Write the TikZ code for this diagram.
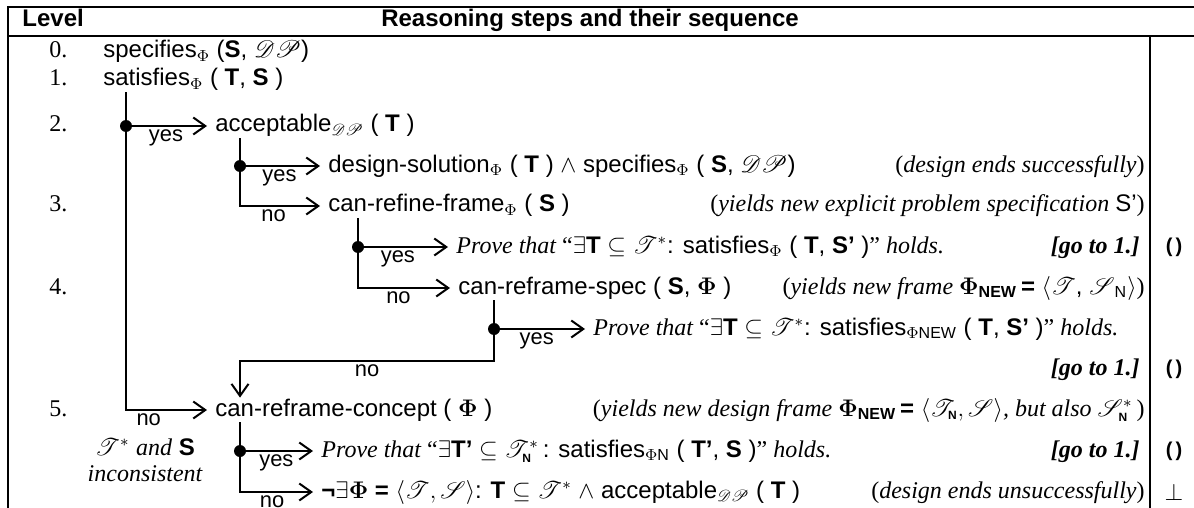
\documentclass[tikz,border=0pt,12pt]{standalone}
\usepackage[no-math]{fontspec}
\setmainfont{Liberation Sans}
\newfontfamily\tms[Ligatures=TeX]{Liberation Serif}
\usepackage{mathrsfs}
\usetikzlibrary{arrows.meta}
\newcommand{\DP}{\ensuremath{\mathscr{DP}}}
\newcommand{\subN}{\hbox{\fontsize{6}{6}\selectfont\bfseries N}}
\newcommand{\loopsym}{{\bfseries\fontsize{10}{10}\selectfont(\kern1.5pt)}}
\begin{document}
\begin{tikzpicture}[x=0.5pt, y=-0.5pt, >={Straight Barb[length=6pt,width=8.5pt]},
  txt/.style = {anchor=west, inner xsep=4pt, inner ysep=0pt, text height=9pt, text depth=3pt},
  note/.style = {anchor=east, inner sep=0pt, text height=9pt, text depth=3pt},
  num/.style = {anchor=west, inner sep=0pt, text height=9pt, text depth=3pt, font=\tms},
  lab/.style = {below, inner sep=1.5pt, font=\small},
  dot/.style = {circle, fill, inner sep=0pt, minimum size=6pt},
  flow/.style = {line width=1pt},
  rule/.style = {line width=1.3pt}]
\useasboundingbox (0,0) rectangle (1194,508);

\draw[rule] (8,508) -- (8,7) -- (1194,7);
\draw[rule] (8,36) -- (1194,36);
\draw[rule] (1150,36) -- (1150,508);

\node[txt, inner xsep=0pt, font=\bfseries] (lvlhead) at (22,21) {Level};
\node[inner sep=0pt, text height=9pt, text depth=3pt, font=\bfseries] (stephead) at (590,21) {Reasoning steps and their sequence};

\node[num] (n0) at (49,52) {0.};
\node[num] (n1) at (49,80) {1.};
\node[num] (n2) at (49,126) {2.};
\node[num] (n3) at (49,206) {3.};
\node[num] (n4) at (49,288) {4.};
\node[num] (n5) at (49,410) {5.};

\node[txt] (spec0) at (95,52) {specifies$_\Phi$ (\textbf{S}, \DP)};
\node[txt] (sat) at (95,80) {satisfies$_\Phi$ ( \textbf{T}, \textbf{S} )};
\node[txt] (acc) at (207,126) {acceptable$_{\mathscr{DP}}$ ( \textbf{T} )};
\node[txt] (dsol) at (320,166) {design-solution$_\Phi$ ( \textbf{T} ) $\wedge$ specifies$_\Phi$ ( \textbf{S}, \DP)};
\node[txt] (refine) at (320,206) {can-refine-frame$_\Phi$ ( \textbf{S} )};
\node[txt] (prove1) at (448,247) {{\tms\itshape Prove that }{\tms “}$\exists$\textbf{T} $\subseteq \mathscr{T}^*$: satisfies\textsubscript{$\Phi$} ( \textbf{T}, \textbf{S’} ){\tms ” \textit{holds.}}};
\node[txt] (rspec) at (450,288) {can-reframe-spec ( \textbf{S}, $\mathbf{\Phi}$ )};
\node[txt] (prove2) at (585,329) {{\tms\itshape Prove that }{\tms “}$\exists$\textbf{T} $\subseteq \mathscr{T}^*$: satisfies\textsubscript{$\Phi$NEW} ( \textbf{T}, \textbf{S’} ){\tms ” \textit{holds.}}};
\node[txt] (concept) at (207,410) {can-reframe-concept ( $\mathbf{\Phi}$ )};
\node[txt] (prove3) at (313,451) {{\tms\itshape Prove that }{\tms “}$\exists$\textbf{T’} $\subseteq \mathscr{T}^{*}_{\subN}$\,: satisfies\textsubscript{$\Phi$N} ( \textbf{T’}, \textbf{S} ){\tms ” \textit{holds.}}};
\node[txt] (noframe) at (313,492) {\textbf{¬}$\exists\mathbf{\Phi}$ \textbf{=} $\langle\mathscr{T}, \mathscr{S}\rangle$: \textbf{T} $\subseteq \mathscr{T}^*$ $\wedge$ acceptable$_{\mathscr{DP}}$ ( \textbf{T} )};

\node[note] (succ) at (1145,166) {{\tms (\textit{design ends successfully})}};
\node[note] (newspec) at (1145,206) {{\tms (\textit{yields new explicit problem specification} }S’{\tms )}};
\node[note] (goto1) at (1140,247) {{\tms\bfseries\itshape [go to 1.]}};
\node[note] (newframe) at (1145,288) {{\tms (\textit{yields new frame} }$\mathbf{\Phi}$\textsubscript{\textbf{NEW}}\,\textbf{=} $\langle\mathscr{T}$, $\mathscr{S}$\textsubscript{N}$\rangle${\tms )}};
\node[note] (goto2) at (1140,369) {{\tms\bfseries\itshape [go to 1.]}};
\node[note] (newconc) at (1145,410) {{\tms (\textit{yields new design frame} }$\mathbf{\Phi}$\textsubscript{\textbf{NEW}}\,\textbf{=} $\langle\mathscr{T}_{\subN}, \mathscr{S}\rangle${\tms\itshape , but also }$\mathscr{S}^{*}_{\subN}$\,{\tms )}};
\node[note] (goto3) at (1140,451) {{\tms\bfseries\itshape [go to 1.]}};
\node[note] (unsucc) at (1145,492) {{\tms (\textit{design ends unsuccessfully})}};

\node (cyc1) at (1174,247) {\loopsym};
\node (cyc2) at (1174,369) {\loopsym};
\node (cyc3) at (1174,451) {\loopsym};
\node (bot) at (1174,492) {$\perp$};

\node[inner sep=0pt] (incons1) at (145,447) {$\mathscr{T}^*$ {\tms\itshape and} \textbf{S}};
\node[inner sep=0pt, font=\tms\itshape] (incons2) at (145,474) {inconsistent};

\node[dot] (jA) at (126,126) {};
\node[dot] (jB) at (240,166) {};
\node[dot] (jC) at (358,247) {};
\node[dot] (jD) at (494,329) {};
\node[dot] (jE) at (240,451) {};
\coordinate (back) at (240,361);

\draw[flow,->] (jA |- sat.south) -- (jA) |- node[lab,pos=0.64] {no} (concept);
\draw[flow,->] (jA) -- node[lab,pos=0.45] {yes} (acc);
\draw[flow,->] (jB |- acc.south) -- (jB) |- node[lab,pos=0.71] {no} (refine);
\draw[flow,->] (jB) -- node[lab,pos=0.45] {yes} (dsol);
\draw[flow,->] (jC |- refine.south) -- (jC) |- node[lab,pos=0.72] {no} (rspec);
\draw[flow,->] (jC) -- node[lab,pos=0.4] {yes} (prove1);
\draw[flow,->] (jD |- rspec.south) -- (jD) |- node[lab,pos=0.75] {no} (back) -- (back |- concept.north);
\draw[flow,->] (jD) -- node[lab,pos=0.43] {yes} (prove2);
\draw[flow,->] (jE |- concept.south) -- (jE) |- node[lab,pos=0.72] {no} (noframe);
\draw[flow,->] (jE) -- node[lab,pos=0.45] {yes} (prove3);
\end{tikzpicture}
\end{document}
